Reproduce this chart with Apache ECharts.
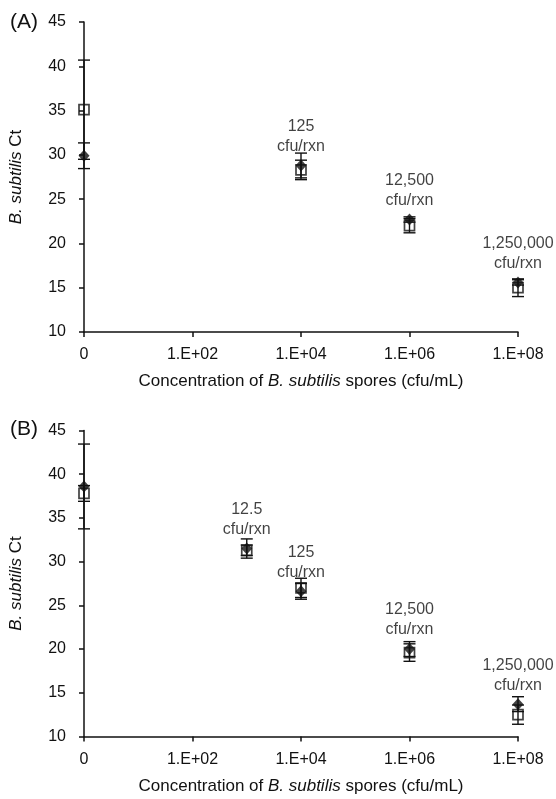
<!DOCTYPE html>
<html><head><meta charset="utf-8">
<script src="https://cdn.jsdelivr.net/npm/echarts@6/dist/echarts.min.js"></script>
<style>html,body{margin:0;padding:0;background:#fff}#c{width:556px;height:799px}</style>
</head><body><div id="c"></div>
<script>
// x values are log10 of concentration (cfu/mL); 0 stands for the zero-spore control
const xTickLabels = ['0', '1.E+02', '1.E+04', '1.E+06', '1.E+08'];
const xA = [0, 4, 6, 8];
const diamondA = [29.9, 28.8, 22.7, 15.6];
const diamondErrA = [1.45, 1.4, 0.3, 0.3];
const squareA = [35.1, 28.3, 22.0, 15.0];
const squareErrA = [5.6, 1.1, 0.8, 1.0];
const labelsA = ['', '125\ncfu/rxn', '12,500\ncfu/rxn', '1,250,000\ncfu/rxn'];

const xB = [0, 3, 4, 6, 8];
const diamondB = [38.6, 31.5, 26.6, 20.0, 13.7];
const diamondErrB = [4.85, 1.1, 0.9, 0.85, 0.85];
const squareB = [37.8, 31.3, 27.0, 19.6, 12.5];
const squareErrB = [0.9, 0.6, 1.1, 1.0, 1.1];
const labelsB = ['', '12.5\ncfu/rxn', '125\ncfu/rxn', '12,500\ncfu/rxn', '1,250,000\ncfu/rxn'];

const FONT = 'Liberation Sans, Arial, sans-serif';
const TXT = '#111';
const chart = echarts.init(document.getElementById('c'), null, {renderer: 'canvas'});

function xAxisDef(gi) {
  return {
    gridIndex: gi, type: 'value', min: 0, max: 8, interval: 2,
    name: 'Concentration of {i|B. subtilis} spores (cfu/mL)',
    nameLocation: 'middle', nameGap: 41,
    nameTextStyle: {fontFamily: FONT, fontSize: 17, color: TXT, rich: {i: {fontStyle: 'italic', fontFamily: FONT, fontSize: 17, color: TXT}}},
    axisLine: {show: true, onZero: false, lineStyle: {color: '#111', width: 1.5}},
    axisTick: {show: true, inside: false, length: 5, lineStyle: {color: '#111', width: 1.5}},
    axisLabel: {fontFamily: FONT, fontSize: 16, color: TXT, margin: 15,
      formatter: v => xTickLabels[Math.round(v / 2)]},
    splitLine: {show: false}
  };
}
function yAxisDef(gi) {
  return {
    gridIndex: gi, type: 'value', min: 10, max: 45, interval: 5,
    name: '{i|B. subtilis} Ct', nameLocation: 'middle', nameGap: 59,
    nameTextStyle: {fontFamily: FONT, fontSize: 17, color: TXT, rich: {i: {fontStyle: 'italic', fontFamily: FONT, fontSize: 17, color: TXT}}},
    axisLine: {show: true, lineStyle: {color: '#111', width: 1.5}},
    axisTick: {show: true, inside: false, length: 5, lineStyle: {color: '#111', width: 1.5}},
    axisLabel: {fontFamily: FONT, fontSize: 16, color: TXT, margin: 18},
    splitLine: {show: false}
  };
}
function errSeries(gi, xs, ys, es) {
  return {
    type: 'custom', xAxisIndex: gi, yAxisIndex: gi, z: 2,
    data: xs.map((x, i) => [x, ys[i], es[i]]),
    renderItem: function (params, api) {
      const x = api.value(0), y = api.value(1), e = api.value(2);
      const top = api.coord([x, y + e]);
      const bot = api.coord([x, y - e]);
      const hw = 6;
      const st = {stroke: '#111', lineWidth: 1.4};
      return {type: 'group', children: [
        {type: 'line', shape: {x1: top[0], y1: top[1], x2: bot[0], y2: bot[1]}, style: st},
        {type: 'line', shape: {x1: top[0] - hw, y1: top[1], x2: top[0] + hw, y2: top[1]}, style: st},
        {type: 'line', shape: {x1: bot[0] - hw, y1: bot[1], x2: bot[0] + hw, y2: bot[1]}, style: st}
      ]};
    }
  };
}
function squareSeries(gi, xs, ys) {
  return {
    type: 'scatter', xAxisIndex: gi, yAxisIndex: gi, z: 3,
    symbol: 'rect', symbolSize: 10,
    itemStyle: {color: 'rgba(0,0,0,0)', borderColor: '#111', borderWidth: 1.7},
    data: xs.map((x, i) => [x, ys[i]])
  };
}
function diamondSeries(gi, xs, ys, labels) {
  return {
    type: 'scatter', xAxisIndex: gi, yAxisIndex: gi, z: 4,
    symbol: 'diamond', symbolSize: [11, 12],
    itemStyle: {color: '#111'},
    label: {show: true, position: 'top', distance: 3, fontFamily: FONT, fontSize: 16, color: TXT,
      lineHeight: 20, align: 'center',
      formatter: p => labels[p.dataIndex]},
    data: xs.map((x, i) => [x, ys[i]])
  };
}

chart.setOption({
  animation: false,
  backgroundColor: '#fff',
  title: [
    {text: '(A)', left: 5, top: 7, textStyle: {fontFamily: FONT, fontSize: 21, fontWeight: 'normal', color: TXT}},
    {text: '(B)', left: 5, top: 414, textStyle: {fontFamily: FONT, fontSize: 21, fontWeight: 'normal', color: TXT}}
  ],
  grid: [
    {left: 83, right: 38, top: 22, height: 310},
    {left: 83, right: 38, top: 430.5, height: 306}
  ],
  xAxis: [xAxisDef(0), xAxisDef(1)],
  yAxis: [yAxisDef(0), yAxisDef(1)],
  series: [
    errSeries(0, xA, squareA, squareErrA),
    errSeries(0, xA, diamondA, diamondErrA),
    squareSeries(0, xA, squareA),
    diamondSeries(0, xA, diamondA, labelsA),
    errSeries(1, xB, squareB, squareErrB),
    errSeries(1, xB, diamondB, diamondErrB),
    squareSeries(1, xB, squareB),
    diamondSeries(1, xB, diamondB, labelsB)
  ]
});
</script></body></html>
